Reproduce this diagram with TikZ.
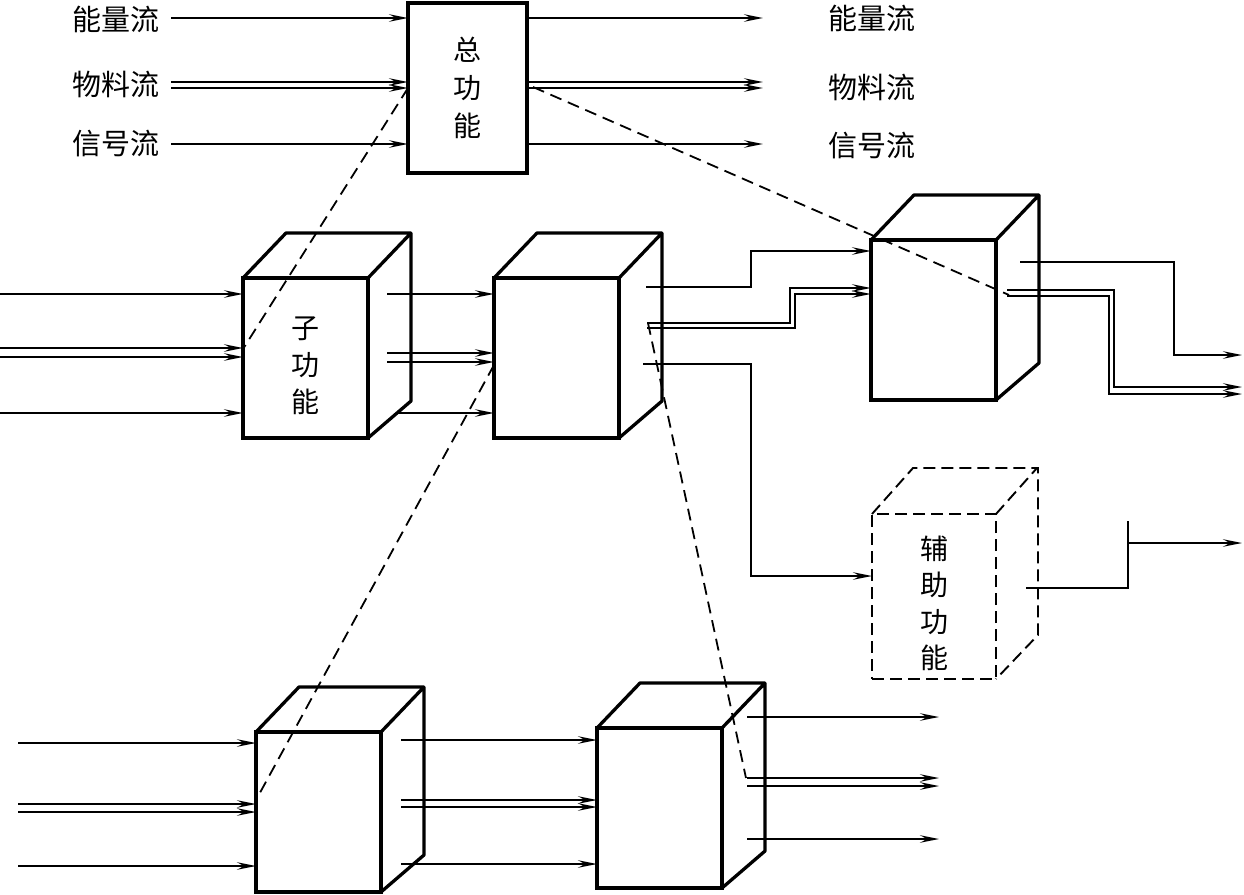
\documentclass[tikz,border=0pt]{standalone}
\usepackage{fontspec}
\setmainfont{Noto Sans CJK SC}
\usetikzlibrary{arrows.meta}

\begin{document}
\begin{tikzpicture}[x=1pt,y=-1pt,>={Stealth[length=19pt,width=7.5pt,inset=7pt]},
	face/.style={draw,line width=3.3pt,anchor=north west,inner sep=0pt,outer sep=0pt,minimum width=125pt,minimum height=160pt},
	edge/.style={line width=3.3pt,line join=round},
	flow/.style={->,line width=1.7pt},
	guide/.style={line width=1.8pt,dash pattern=on 12pt off 7pt},
	auxline/.style={line width=1.9pt,dash pattern=on 12pt off 6pt},
	flowname/.style={font=\fontsize{29}{30}\selectfont,inner sep=0pt},
	boxtext/.style={font=\fontsize{28}{38}\selectfont,align=center,inner sep=0pt}]
	\useasboundingbox (0,0) rectangle (1244,894);
	% overall function
	\node[face,minimum width=119pt,minimum height=170pt,boxtext] (total) at (408,3) {总\\功\\能};
	\node[flowname,anchor=east] (inE) at (160,19) {能量流};
	\node[flowname,anchor=east] (inM) at (160,84) {物料流};
	\node[flowname,anchor=east] (inS) at (160,144) {信号流};
	\node[flowname,anchor=west] (outE) at (828,18) {能量流};
	\node[flowname,anchor=west] (outM) at (828,87) {物料流};
	\node[flowname,anchor=west] (outS) at (828,146) {信号流};
	\foreach \y in {18,82,88,144} {
		\draw[flow,line width=2pt] (171,\y) -- (171,\y -| total.west);
		\draw[flow,line width=2pt] (total.east |- 0,\y) -- (763,\y);
	}
	% sub functions
	\foreach \n/\x/\y in {subA/243/278,subB/494/278,subC/871/240,subD/256/732,subE/597/728} {
		\node[face] (\n) at (\x,\y) {};
		\draw[edge] (\n.north west) -- ++(43,-45) -- ++(125,0) -- ++(0,168) -- (\n.south east)
			(\n.north east) -- ++(43,-45);
	}
	\node[boxtext,font=\fontsize{28}{37}\selectfont] (subAtxt) at ([yshift=-8pt]subA.center) {子\\功\\能};
	% auxiliary function
	\node[face,auxline,minimum width=124pt,minimum height=165pt] (aux) at (872,514) {};
	\draw[auxline] (aux.north west) -- ++(41,-46) -- ++(125,0) -- ++(0,167) -- (aux.south east)
		(aux.north east) -- ++(41,-46);
	\node[boxtext,font=\fontsize{28}{36.5}\selectfont] (auxtxt) at ([yshift=-7pt]aux.center) {辅\\助\\功\\能};
	% middle row
	\foreach \y in {294,348,357,413} \draw[flow] (0,\y) -- (0,\y -| subA.west);
	\foreach \y/\s in {294/387,353/387,362/387,413/396} \draw[flow] (\s,\y) -- (\s,\y -| subB.west);
	\draw[flow] (646,287) -| (751,251) -- (751,251 -| subC.west);
	\draw[flow] (647,323) -| (790,288) -- (790,288 -| subC.west);
	\draw[flow] (647,328) -| (795,294) -- (795,294 -| subC.west);
	\draw[flow] (643,364) -| (751,576) -- (751,576 -| aux.west);
	\draw[flow] (1020,262) -| (1174,355) -- (1242,355);
	\draw[flow] (1007,290) -| (1114,387) -- (1242,387);
	\draw[flow] (1007,296) -| (1109,394) -- (1242,394);
	\draw[line width=1.7pt] (1026,588) -| (1128,521);
	\draw[flow] (1128,543) -- (1242,543);
	% bottom row
	\foreach \y in {743,804,812,866} \draw[flow] (18,\y) -- (18,\y -| subD.west);
	\foreach \y in {740,800,807,864} \draw[flow] (401,\y) -- (401,\y -| subE.west);
	\foreach \y in {717,778,786,839} \draw[flow] (747,\y) -- (939,\y);
	% decomposition
	\draw[guide] (total.west |- 0,88) -- (subA.west |- 0,349);
	\draw[guide] (533,87) -- (1009,295);
	\draw[guide] (subB.west |- 0,365) -- (subD.west |- 0,800);
	\draw[guide] (648,323) -- (746,778);
\end{tikzpicture}
\end{document}
